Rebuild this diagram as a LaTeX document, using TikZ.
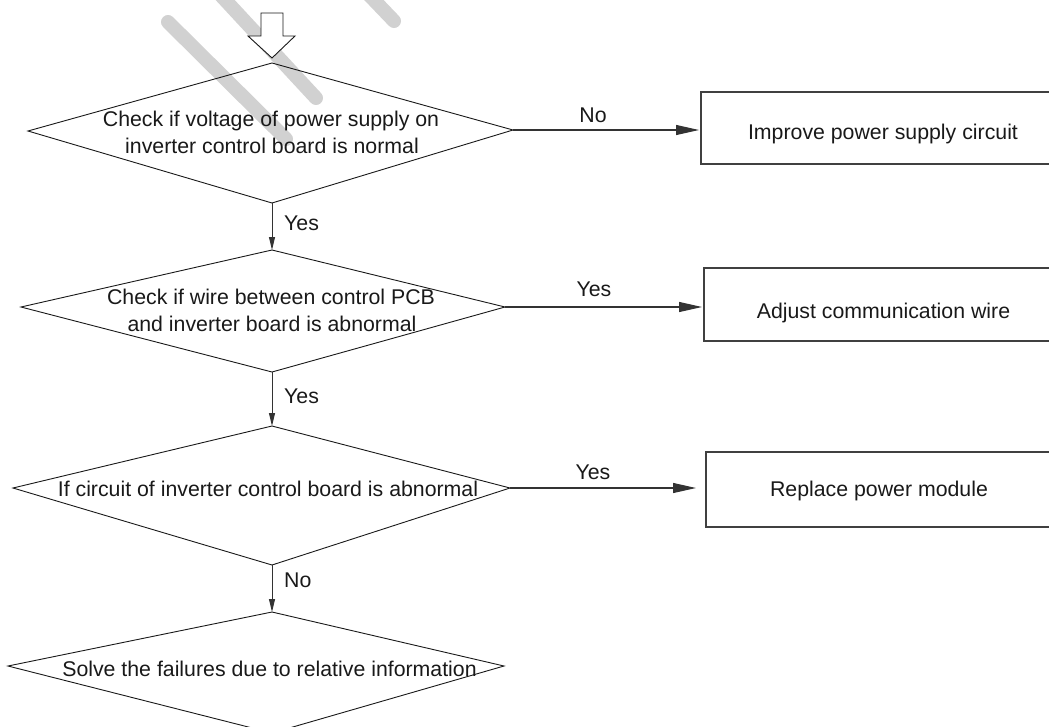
\documentclass[tikz,border=0pt]{standalone}
\usepackage{fontspec}
\setmainfont{Liberation Sans}
\usetikzlibrary{arrows.meta}
\tikzset{
  stripe/.style={line width=14pt, line cap=round, draw=black!18},
  dia/.style={draw=black!90, line width=0.9pt, line join=miter},
  boxline/.style={draw=black!75, line width=1.3pt},
  txt/.style={inner sep=0pt, anchor=base, font=\fontsize{21.3}{27}\selectfont, text=black!90},
  lbl/.style={inner sep=0pt, font=\fontsize{21.3}{27}\selectfont, text=black!90},
  harrow/.style={draw=black!80, line width=1.1pt, -{Triangle[length=23pt,width=10pt]}},
  varrow/.style={draw=black!80, line width=1pt, -{Triangle[length=13pt,width=6pt]}},
  blockarrow/.style={draw=black!90, line width=0.9pt, fill=white, line join=miter}
}
\begin{document}
\begin{tikzpicture}[x=1pt,y=-1pt]
\useasboundingbox (0,0) rectangle (1049,726);
\clip (0,0) rectangle (1049,726);
% watermark stripes
\draw[stripe] (168,22) -- (286,139);
\draw[stripe] (202,-25) -- (316,98);
\draw[stripe] (350,-25) -- (394,21);
% start block arrow
\draw[blockarrow] (261,13) -- (283,13) -- (283,36) -- (295,36) -- (272,58) -- (248,36) -- (261,36) -- cycle;
% diamond vertices
\coordinate (d1t) at (272,63);  \coordinate (d1r) at (513,130);
\coordinate (d1b) at (272,203); \coordinate (d1l) at (28,131);
\coordinate (d2t) at (272,250); \coordinate (d2r) at (505,307);
\coordinate (d2b) at (272,372); \coordinate (d2l) at (21,307);
\coordinate (d3t) at (272,426); \coordinate (d3r) at (510,488);
\coordinate (d3b) at (272,565); \coordinate (d3l) at (13,488);
\coordinate (d4t) at (272,612); \coordinate (d4r) at (504,666);
\coordinate (d4b) at (272,733); \coordinate (d4l) at (8,666);
\draw[dia] (d1t) -- (d1r) -- (d1b) -- (d1l) -- cycle;
\draw[dia] (d2t) -- (d2r) -- (d2b) -- (d2l) -- cycle;
\draw[dia] (d3t) -- (d3r) -- (d3b) -- (d3l) -- cycle;
\draw[dia] (d4t) -- (d4r) -- (d4b) -- (d4l) -- cycle;
% diamond texts
\node[txt] (t1a) at (271,126) {Check if voltage of power supply on};
\node[txt] (t1b) at (272,153) {inverter control board is normal};
\node[txt] (t2a) at (271,304) {Check if wire between control PCB};
\node[txt] (t2b) at (272,331) {and inverter board is abnormal};
\node[txt] (t3) at (268,496) {If circuit of inverter control board is abnormal};
\node[txt] (t4) at (269.5,676) {Solve the failures due to relative information};
% boxes
\coordinate (b1nw) at (701,92);  \coordinate (b1se) at (1052,164);
\coordinate (b2nw) at (704,268); \coordinate (b2se) at (1052,341);
\coordinate (b3nw) at (706,452); \coordinate (b3se) at (1052,527);
\draw[boxline] (b1nw) rectangle (b1se);
\draw[boxline] (b2nw) rectangle (b2se);
\draw[boxline] (b3nw) rectangle (b3se);
\node[txt] (bt1) at (883,139) {Improve power supply circuit};
\node[txt] (bt2) at (883.5,318) {Adjust communication wire};
\node[txt] (bt3) at (879,496) {Replace power module};
% arrow end points
\coordinate (a1e) at (699,130);
\coordinate (a2e) at (702,307);
\coordinate (a3e) at (696,488);
\draw[harrow] (d1r) -- (a1e);
\draw[harrow] (d2r) -- (a2e);
\draw[harrow] (d3r) -- (a3e);
\draw[varrow] (d1b) -- (d2t);
\draw[varrow] (d2b) -- (d3t);
\draw[varrow] (d3b) -- (d4t);
% labels
\node[lbl, anchor=base] (l1) at (593,122) {No};
\node[lbl, anchor=base] (l2) at (594,296) {Yes};
\node[lbl, anchor=base] (l3) at (593,479) {Yes};
\node[lbl, anchor=base west] (l4) at (284,230) {Yes};
\node[lbl, anchor=base west] (l5) at (284,403) {Yes};
\node[lbl, anchor=base west] (l6) at (284,587) {No};
\end{tikzpicture}
\end{document}
